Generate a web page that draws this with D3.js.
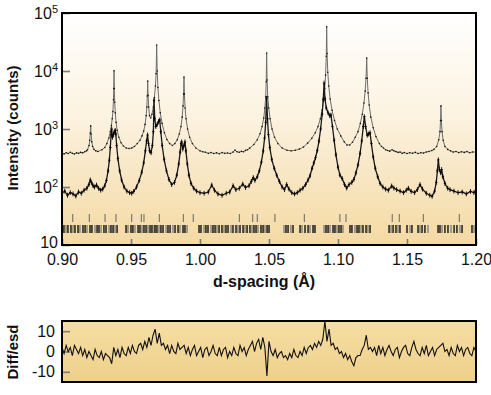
<!DOCTYPE html>
<html>
<head>
<meta charset="utf-8">
<script src="https://cdn.jsdelivr.net/npm/d3@7"></script>
<style>
  body { margin: 0; background: #fff; }
  svg { display: block; font-family: "Liberation Sans", Arial, sans-serif; }
</style>
</head>
<body>
<svg id="chart" width="491" height="395"></svg>
<script>
// ---- data ----
// upper pattern: [d-spacing, counts]
const upperObs = [
  [0.9000,395],[0.9015,372],[0.9030,390],[0.9045,378],[0.9060,398],[0.9075,380],[0.9090,370],[0.9105,388],
  [0.9120,380],[0.9135,395],[0.9150,388],[0.9165,405],[0.9178,420],
  [0.9185,440],[0.9196,520],[0.9201,640],[0.9205,850],[0.9208,1130],[0.9211,820],[0.9216,600],[0.9222,500],
  [0.9232,445],[0.9245,420],[0.9260,410],[0.9290,440],[0.9310,480],[0.9325,560],[0.9340,700],[0.9350,900],
  [0.9358,1150],[0.9364,1500],[0.9369,2000],[0.9373,3200],[0.9375,5000],[0.9377,10100],[0.9379,5000],
  [0.9382,2900],[0.9386,1900],[0.9392,1300],[0.9400,950],[0.9412,720],[0.9428,580],[0.9445,510],[0.9465,470],
  [0.9485,460],[0.9505,470],[0.9525,500],[0.9545,560],[0.9565,640],[0.9580,760],[0.9592,920],[0.9602,1200],
  [0.9610,1700],[0.9615,2400],[0.9618,3700],[0.9621,6700],[0.9624,3800],[0.9628,2400],[0.9634,1700],
  [0.9643,1550],[0.9652,1800],[0.9662,2400],[0.9670,3500],[0.9677,5500],[0.9682,9000],[0.9686,28000],
  [0.9690,10000],[0.9695,5200],[0.9702,3100],[0.9712,1900],[0.9725,1250],[0.9742,860],[0.9760,660],
  [0.9780,560],[0.9800,520],[0.9818,560],[0.9835,650],[0.9850,820],[0.9862,1100],[0.9871,1600],[0.9877,2500],
  [0.9881,4000],[0.9884,7900],[0.9887,4000],[0.9892,2300],[0.9899,1500],[0.9910,1000],[0.9925,720],
  [0.9945,560],[0.9970,470],[1.0000,420],[1.0020,405],[1.0040,398],[1.0060,380],[1.0080,392],[1.0100,378],
  [1.0120,388],[1.0140,375],[1.0160,392],[1.0180,380],[1.0200,385],[1.0220,378],[1.0240,400],[1.0254,432],
  [1.0268,405],[1.0285,398],[1.0300,412],[1.0315,405],[1.0330,428],[1.0345,440],[1.0360,468],[1.0390,540],
  [1.0415,650],[1.0435,830],[1.0450,1100],[1.0462,1550],[1.0470,2300],[1.0476,3600],[1.0480,6500],
  [1.0483,20400],[1.0486,7000],[1.0491,3600],[1.0498,2300],[1.0508,1500],[1.0522,1000],[1.0540,720],
  [1.0565,560],[1.0595,470],[1.0630,430],[1.0660,420],[1.0690,430],[1.0720,450],[1.0750,490],[1.0780,570],
  [1.0810,690],[1.0835,860],[1.0855,1100],[1.0872,1500],[1.0885,2100],[1.0896,3200],[1.0904,5000],
  [1.0910,8500],[1.0915,18000],[1.0918,58000],[1.0921,20000],[1.0926,9500],[1.0933,5500],[1.0943,3300],
  [1.0957,2100],[1.0975,1400],[1.0995,1000],[1.1020,760],[1.1045,600],[1.1065,530],[1.1085,530],[1.1105,590],
  [1.1125,720],[1.1145,900],[1.1162,1250],[1.1176,1800],[1.1188,2800],[1.1197,4500],[1.1203,7500],
  [1.1208,16800],[1.1212,7500],[1.1218,4200],[1.1226,2600],[1.1238,1600],[1.1255,1050],[1.1275,740],
  [1.1300,560],[1.1315,500],[1.1330,470],[1.1345,440],[1.1360,425],[1.1375,415],[1.1392,440],[1.1405,420],
  [1.1420,408],[1.1435,395],[1.1450,400],[1.1465,380],[1.1480,392],[1.1500,378],[1.1520,390],[1.1540,382],
  [1.1560,395],[1.1580,378],[1.1600,390],[1.1620,385],[1.1640,402],[1.1660,410],[1.1680,425],[1.1695,445],
  [1.1715,500],[1.1730,650],[1.1739,900],[1.1743,1400],[1.1746,2500],[1.1749,1400],[1.1754,900],[1.1762,640],
  [1.1775,500],[1.1795,445],[1.1815,420],[1.1835,400],[1.1855,410],[1.1875,392],[1.1895,405],[1.1915,395],
  [1.1935,408],[1.1955,390],[1.1975,402],[1.2000,398]
];

// lower pattern: [d-spacing, counts]
const lowerObs = [
  [0.9000,78],[0.9020,85],[0.9040,72],[0.9060,80],[0.9080,76],[0.9100,70],[0.9120,82],[0.9140,78],[0.9160,88],
  [0.9180,95],[0.9195,110],[0.9205,132],[0.9215,118],[0.9225,105],[0.9235,100],[0.9250,108],[0.9265,95],
  [0.9280,88],[0.9295,92],[0.9310,105],[0.9322,130],[0.9334,190],[0.9343,290],[0.9350,480],[0.9356,800],
  [0.9360,1000],[0.9366,720],[0.9372,800],[0.9378,880],[0.9385,950],[0.9390,820],[0.9396,520],[0.9405,310],
  [0.9418,190],[0.9432,132],[0.9450,100],[0.9470,85],[0.9490,80],[0.9505,78],[0.9520,84],[0.9540,100],
  [0.9560,130],[0.9578,180],[0.9592,260],[0.9604,420],[0.9613,620],[0.9620,790],[0.9627,560],[0.9635,420],
  [0.9645,390],[0.9655,520],[0.9662,900],[0.9667,3160],[0.9672,1500],[0.9680,1100],[0.9690,1200],[0.9700,1350],
  [0.9708,1430],[0.9716,900],[0.9726,520],[0.9740,300],[0.9757,190],[0.9775,135],[0.9795,110],[0.9815,120],
  [0.9832,160],[0.9846,250],[0.9856,400],[0.9863,560],[0.9867,600],[0.9875,450],[0.9884,520],[0.9891,600],
  [0.9898,420],[0.9908,250],[0.9920,160],[0.9935,115],[0.9955,95],[0.9975,85],[1.0000,80],[1.0030,78],
  [1.0060,82],[1.0085,108],[1.0105,88],[1.0130,76],[1.0160,72],[1.0190,78],[1.0215,82],[1.0240,105],
  [1.0260,90],[1.0285,95],[1.0310,112],[1.0330,98],[1.0355,105],[1.0372,125],[1.0386,145],[1.0398,130],
  [1.0415,150],[1.0430,190],[1.0445,270],[1.0458,420],[1.0468,700],[1.0476,1300],[1.0483,3400],[1.0489,1500],
  [1.0496,800],[1.0506,480],[1.0520,300],[1.0538,210],[1.0556,160],[1.0575,125],[1.0595,100],[1.0612,90],
  [1.0628,110],[1.0645,92],[1.0665,80],[1.0685,76],[1.0705,80],[1.0725,88],[1.0745,95],[1.0765,110],
  [1.0783,132],[1.0797,155],[1.0812,210],[1.0825,260],[1.0837,320],[1.0850,430],[1.0862,620],[1.0874,1000],
  [1.0885,1800],[1.0893,3200],[1.0899,6200],[1.0906,3300],[1.0915,2300],[1.0928,1900],[1.0940,1700],
  [1.0949,1740],[1.0960,1100],[1.0972,640],[1.0985,360],[1.1000,220],[1.1014,160],[1.1030,140],[1.1048,110],
  [1.1063,96],[1.1080,110],[1.1100,120],[1.1115,135],[1.1130,175],[1.1145,240],[1.1160,380],[1.1172,620],
  [1.1183,1100],[1.1191,1630],[1.1200,1100],[1.1212,780],[1.1222,820],[1.1232,860],[1.1242,560],[1.1255,330],
  [1.1270,210],[1.1288,150],[1.1305,115],[1.1325,100],[1.1345,92],[1.1365,88],[1.1389,104],[1.1405,96],
  [1.1425,90],[1.1450,85],[1.1475,80],[1.1495,88],[1.1510,95],[1.1530,84],[1.1555,80],[1.1575,90],
  [1.1594,110],[1.1612,92],[1.1640,78],[1.1665,72],[1.1682,69],[1.1700,85],[1.1712,120],[1.1720,190],
  [1.1727,294],[1.1735,200],[1.1745,175],[1.1751,200],[1.1760,150],[1.1775,115],[1.1795,95],[1.1812,90],
  [1.1840,85],[1.1870,80],[1.1900,82],[1.1930,76],[1.1960,84],[1.1985,80],[1.2000,88]
];

// reflection markers, phase 1 (upper row) and phase 2 (lower row)
const phase1Ticks = [0.9078,0.9198,0.9312,0.9391,0.9505,0.9575,0.9594,0.9705,0.9879,0.9951,1.0285,
  1.0382,1.0415,1.0543,1.0756,1.1014,1.1058,1.1393,1.1444,1.1618,1.1879];
const phase2Ticks = [
  0.9014,0.9029,0.9043,0.9065,0.9080,0.9094,0.9116,0.9130,0.9152,0.9167,0.9181,0.9203,0.9217,0.9239,
  0.9254,0.9268,0.9283,0.9304,0.9319,0.9341,0.9355,0.9370,0.9384,0.9399,
  0.9464,0.9478,0.9500,0.9514,0.9529,0.9551,0.9565,0.9580,0.9594,0.9609,0.9623,0.9638,0.9652,0.9667,
  0.9674,0.9688,0.9703,0.9717,0.9732,0.9754,0.9768,0.9783,0.9804,0.9819,0.9841,0.9855,0.9877,0.9891,0.9906,
  0.9993,1.0007,1.0029,1.0043,1.0058,1.0080,1.0094,1.0109,1.0123,1.0138,1.0159,1.0174,1.0188,1.0203,
  1.0225,1.0239,1.0261,1.0275,1.0290,1.0312,1.0326,1.0341,1.0362,1.0377,1.0391,1.0406,1.0420,1.0442,
  1.0457,1.0471,1.0486,1.0500,
  1.0609,1.0623,1.0638,1.0659,1.0674,
  1.0725,1.0739,1.0761,1.0783,1.0797,1.0819,1.0833,
  1.0899,1.0913,1.0928,1.0942,1.0964,1.0978,1.0993,1.1007,1.1022,1.1036,
  1.1087,1.1101,1.1123,1.1138,1.1152,1.1167,1.1181,1.1203,1.1217,1.1232,
  1.1370,1.1384,1.1399,1.1420,1.1435,1.1449,
  1.1500,1.1522,1.1536,
  1.1580,1.1594,1.1609,1.1630,1.1652,
  1.1725,1.1739,1.1754,1.1775,1.1797,
  1.1819,1.1841,1.1862,1.1884,1.1899,
  1.1971,1.1986
];

// difference / esd, evenly sampled from 0.90 to 1.20
const diffEsd = [
  2,-1,3,0,2,-2,3,1,-1,2,
  -2,1,-3,0,-2,-4,1,-2,-3,0,-4,-1,-2,-3,-6,
  2,-2,1,-3,2,-1,-2,2,-1,3,0,-1,3,4,1,
  5,2,7,3,8,11,4,9,3,4,1,
  3,-1,3,0,-1,4,1,2,3,-1,
  2,-2,1,3,-2,0,2,-3,1,2,-2,0,3,-1,-2,2,-2,1,2,-3,0,-2,2,-1,-2,3,0,2,-2,1,
  3,5,0,4,6,1,
  7,2,-12,5,0,
  -2,1,-3,-1,0,-3,-2,-4,-1,-3,1,-2,-3,0,-2,2,-1,2,3,1,4,2,5,
  3,6,15,5,11,3,4,1,
  2,-1,0,-3,-1,-4,-2,-5,-7,-3,-2,-2,1,
  3,8,1,2,
  0,2,-2,3,-1,2,-2,1,3,0,-2,1,2,-3,0,2,3,-1,-2,2,5,1,-1,-2,2,-1,3,-2,0,2,
  -2,1,2,3,4,0,1,-2,2,-1,-2,3,0,2,-2,1,2,-1,-2,2,0
];

const xTicks = [0.90,0.95,1.00,1.05,1.10,1.15,1.20];
const yTicks = [10,100,1000,10000,100000];
const diffTicks = [-10,0,10];

// ---- layout ----
const svg = d3.select("#chart");
const main = {left: 62, right: 476, top: 13, bottom: 245};
const low = {top: 321, bottom: 382};
const FONT = '"Liberation Sans", Arial, sans-serif';

const x = d3.scaleLinear().domain([0.9, 1.2]).range([main.left, main.right]);
const y = d3.scaleLog().domain([10, 1e5]).range([main.bottom, main.top]);
const yd = d3.scaleLinear().domain([-15, 15]).range([low.bottom, low.top]);

const defs = svg.append("defs");
const g1 = defs.append("linearGradient").attr("id", "bgMain").attr("x1", 0).attr("y1", 0).attr("x2", 0).attr("y2", 1);
g1.append("stop").attr("offset", "0%").attr("stop-color", "#ffffff");
g1.append("stop").attr("offset", "45%").attr("stop-color", "#fcf2e0");
g1.append("stop").attr("offset", "100%").attr("stop-color", "#f4d9a2");
const g2 = defs.append("linearGradient").attr("id", "bgLow").attr("x1", 0).attr("y1", 0).attr("x2", 0).attr("y2", 1);
g2.append("stop").attr("offset", "0%").attr("stop-color", "#f5dea3");
g2.append("stop").attr("offset", "100%").attr("stop-color", "#eed08b");

defs.append("clipPath").attr("id", "clipMain").append("rect")
  .attr("x", main.left).attr("y", main.top).attr("width", main.right - main.left).attr("height", main.bottom - main.top);
defs.append("clipPath").attr("id", "clipLow").append("rect")
  .attr("x", main.left).attr("y", low.top).attr("width", main.right - main.left).attr("height", low.bottom - low.top);

// backgrounds
svg.append("rect").attr("x", main.left).attr("y", main.top)
  .attr("width", main.right - main.left).attr("height", main.bottom - main.top).attr("fill", "url(#bgMain)");
svg.append("rect").attr("x", main.left).attr("y", low.top)
  .attr("width", main.right - main.left).attr("height", low.bottom - low.top).attr("fill", "url(#bgLow)");

// ---- axes ----
function styleAxis(g) {
  g.select(".domain").remove();
  g.attr("font-family", FONT).attr("font-size", 16);
  g.selectAll(".tick line").attr("stroke", "#7a7a7a").attr("stroke-width", 1.6);
  g.selectAll(".tick text").attr("fill", "#111");
}

svg.append("g").attr("transform", `translate(0,${main.bottom})`)
  .call(d3.axisBottom(x).tickValues(xTicks).tickSize(-6).tickPadding(9).tickFormat(d3.format(".2f")))
  .call(styleAxis);

const yAxisG = svg.append("g").attr("transform", `translate(${main.left},0)`)
  .call(d3.axisLeft(y).tickValues(yTicks).tickSize(-8).tickPadding(4).tickFormat(() => ""))
  .call(styleAxis);
yAxisG.selectAll(".tick text").each(function(d) {
  const t = d3.select(this);
  const e = Math.round(Math.log10(d));
  t.text("10");
  if (e > 1) {
    t.append("tspan").attr("font-size", 11).attr("dy", "-0.55em").text(e);
  } else {
    t.attr("y", -3); // keep clear of the 0.90 label below
  }
});

svg.append("g").attr("transform", `translate(${main.left},0)`)
  .call(d3.axisLeft(yd).tickValues(diffTicks).tickSize(-8).tickPadding(7).tickFormat(d => String(d)))
  .call(styleAxis);

// ---- reflection markers ----
const marks = svg.append("g").attr("clip-path", "url(#clipMain)");
marks.selectAll("line.p1").data(phase1Ticks).join("line").attr("class", "p1")
  .attr("x1", d => x(d)).attr("x2", d => x(d)).attr("y1", 214).attr("y2", 222)
  .attr("stroke", "#666").attr("stroke-width", 1);
marks.selectAll("line.p2").data(phase2Ticks).join("line").attr("class", "p2")
  .attr("x1", d => x(d)).attr("x2", d => x(d)).attr("y1", 225).attr("y2", 233)
  .attr("stroke", (d, i) => i % 3 === 1 ? "#808080" : "#111").attr("stroke-width", 1.4);

// ---- patterns ----
const line = d3.line().x(d => x(d[0])).y(d => y(d[1]));
const plot = svg.append("g").attr("clip-path", "url(#clipMain)");

plot.append("path").datum(upperObs).attr("d", line)
  .attr("fill", "none").attr("stroke", "#6e6e6e").attr("stroke-width", 1);
plot.selectAll("circle.up").data(upperObs).join("circle").attr("class", "up")
  .attr("cx", d => x(d[0])).attr("cy", d => y(d[1])).attr("r", 0.8).attr("fill", "#111");

plot.append("path").datum(lowerObs).attr("d", line)
  .attr("fill", "none").attr("stroke", "#1a1a1a").attr("stroke-width", 1.3);
plot.selectAll("path.cross").data(lowerObs).join("path").attr("class", "cross")
  .attr("d", d => {
    const cx = x(d[0]), cy = y(d[1]);
    return `M${cx - 1.2},${cy}H${cx + 1.2}M${cx},${cy - 2.4}V${cy + 2.4}`;
  })
  .attr("stroke", "#000").attr("stroke-width", 0.9);

// ---- difference curve ----
const diffStep = (1.2 - 0.9) / (diffEsd.length - 1);
const diffLine = d3.line().x((d, i) => x(0.9 + i * diffStep)).y(d => yd(d));
svg.append("g").attr("clip-path", "url(#clipLow)").append("path").datum(diffEsd).attr("d", diffLine)
  .attr("fill", "none").attr("stroke", "#111").attr("stroke-width", 1.1);

// ---- frames ----
svg.append("rect").attr("x", main.left).attr("y", main.top)
  .attr("width", main.right - main.left).attr("height", main.bottom - main.top)
  .attr("fill", "none").attr("stroke", "#000").attr("stroke-width", 2);
svg.append("rect").attr("x", main.left).attr("y", low.top)
  .attr("width", main.right - main.left).attr("height", low.bottom - low.top)
  .attr("fill", "none").attr("stroke", "#000").attr("stroke-width", 2);

// ---- titles ----
svg.append("text").attr("x", 264).attr("y", 287).attr("text-anchor", "middle")
  .attr("font-family", FONT).attr("font-size", 16).attr("font-weight", "bold").attr("fill", "#111")
  .text("d-spacing (Å)");
svg.append("text").attr("transform", "translate(18,128) rotate(-90)").attr("text-anchor", "middle")
  .attr("font-family", FONT).attr("font-size", 15).attr("font-weight", "bold").attr("fill", "#111")
  .text("Intensity (counts)");
svg.append("text").attr("transform", "translate(18,352) rotate(-90)").attr("text-anchor", "middle")
  .attr("font-family", FONT).attr("font-size", 15).attr("font-weight", "bold").attr("fill", "#111")
  .text("Diff/esd");
</script>
</body>
</html>
